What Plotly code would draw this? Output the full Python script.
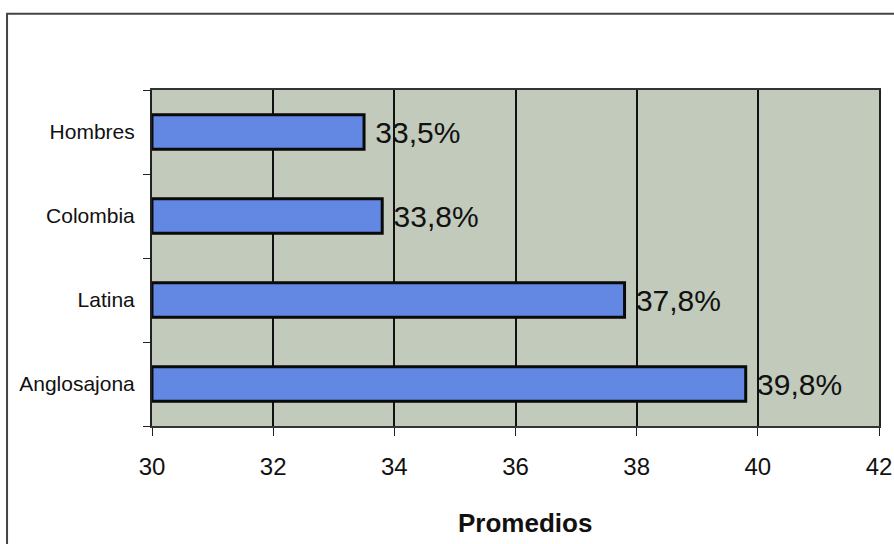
import plotly.graph_objects as go

categories = ["Anglosajona", "Latina", "Colombia", "Hombres"]
values = [39.8, 37.8, 33.8, 33.5]
labels = ["39,8%", "37,8%", "33,8%", "33,5%"]
x_ticks = [30, 32, 34, 36, 38, 40, 42]

fig = go.Figure(
    go.Bar(
        y=categories,
        x=[v - 30 for v in values],
        base=30,
        orientation="h",
        text=labels,
        texttemplate="\u00a0%{text}",
        textposition="outside",
        textfont=dict(family="Liberation Sans, Arial", size=30, color="#111"),
        cliponaxis=False,
        marker=dict(color="rgb(98,136,228)", line=dict(color="#0a0a0a", width=3)),
        width=0.41,
    )
)

fig.update_layout(
    width=894,
    height=544,
    margin=dict(l=152, r=15, t=90, b=118, autoexpand=False),
    paper_bgcolor="white",
    plot_bgcolor="rgb(194,202,188)",
    showlegend=False,
    font=dict(family="Liberation Sans, Arial", color="#111"),
    xaxis=dict(
        range=[30, 42],
        tickvals=x_ticks,
        ticktext=[str(t) for t in x_ticks],
        showgrid=True,
        gridcolor="#111",
        gridwidth=1.5,
        showline=True,
        linecolor="#333",
        linewidth=2,
        mirror=True,
        ticks="outside",
        ticklen=8,
        tickcolor="#222",
        tickfont=dict(size=24),
        ticklabelstandoff=10,
        ticklabeloverflow="allow",
        zeroline=False,
        automargin=False,
    ),
    yaxis=dict(
        categoryorder="array",
        categoryarray=categories,
        showgrid=False,
        showline=True,
        linecolor="#222",
        linewidth=2,
        mirror=True,
        ticks="outside",
        tickson="boundaries",
        ticklen=7,
        tickcolor="#222",
        tickfont=dict(size=21),
        ticklabelstandoff=11,
        automargin=False,
    ),
    shapes=[
        dict(
            type="rect",
            xref="paper",
            yref="paper",
            x0=-0.1994,
            x1=1.04,
            y0=-0.38,
            y1=1.2269,
            line=dict(color="#444", width=2),
            layer="below",
        )
    ],
    annotations=[
        dict(
            text="<b>Promedios</b>",
            xref="paper",
            yref="paper",
            x=(525 - 152) / 727,
            y=(426 - 523) / 336,
            xanchor="center",
            yanchor="middle",
            showarrow=False,
            font=dict(size=26, color="#111"),
        )
    ],
)

fig.write_html("out.html")
